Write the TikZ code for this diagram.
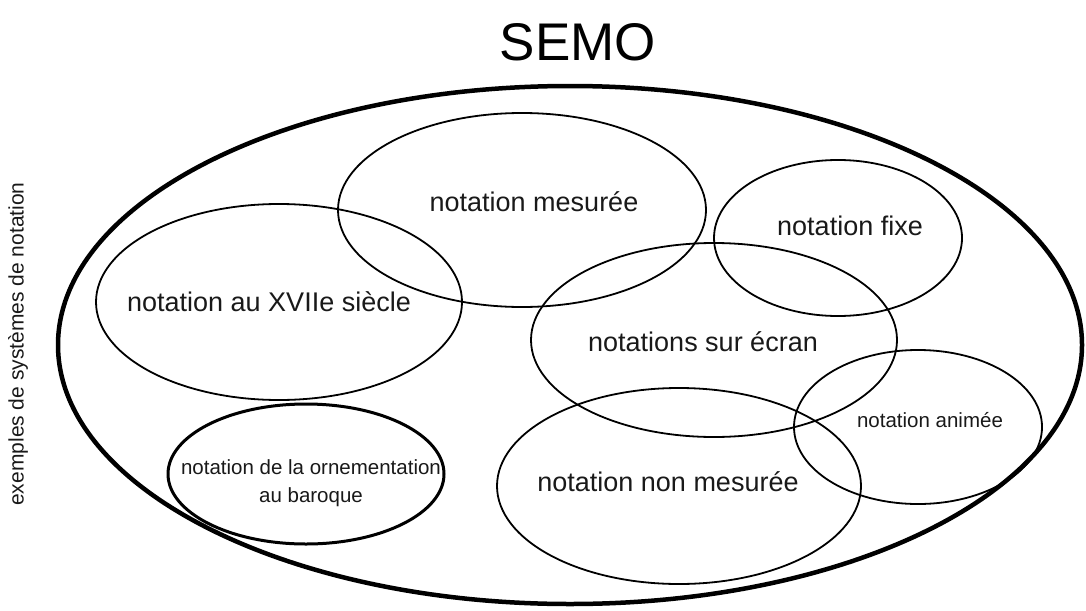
\documentclass[tikz,border=0pt]{standalone}
\usepackage{fontspec}
\setmainfont{Liberation Sans}
\begin{document}
\begin{tikzpicture}[x=1pt,y=-1pt,
  set/.style={draw=black,line width=1.8pt},
  lbl/.style={font=\fontsize{27}{32}\selectfont,text=black!90},
  small/.style={font=\fontsize{20.5}{28}\selectfont,text=black!90,align=center}]
\useasboundingbox (0,0) rectangle (1086,610);
\draw[line width=4.5pt] (570,345) ellipse [x radius=512, y radius=259];
\draw[set] (522,210) ellipse [x radius=184, y radius=97];
\draw[set] (838,238) ellipse [x radius=124, y radius=78];
\draw[set] (279,302) ellipse [x radius=183, y radius=98];
\draw[set] (714,340) ellipse [x radius=183, y radius=97];
\draw[set] (918,427) ellipse [x radius=124, y radius=77];
\draw[set] (679,486) ellipse [x radius=182, y radius=98];
\draw[line width=3pt] (306,474) ellipse [x radius=138, y radius=70];
\node (semo) at (578,42) {\fontsize{53}{60}\selectfont SEMO};
\node[lbl] (mes) at (534,202) {notation mesurée};
\node[lbl] (fixe) at (850,226) {notation fixe};
\node[lbl] (xvii) at (269,302) {notation au XVIIe siècle};
\node[lbl] (ecran) at (703,342) {notations sur écran};
\node[small] (anim) at (930,420) {notation animée};
\node[lbl] (nonmes) at (668,482) {notation non mesurée};
\node[small] (baroque) at (311,483) {notation de la ornementation\\au baroque};
\node[rotate=90,font=\fontsize{21}{24}\selectfont,text=black!90] (side) at (18,344) {exemples de systèmes de notation};
\end{tikzpicture}
\end{document}
